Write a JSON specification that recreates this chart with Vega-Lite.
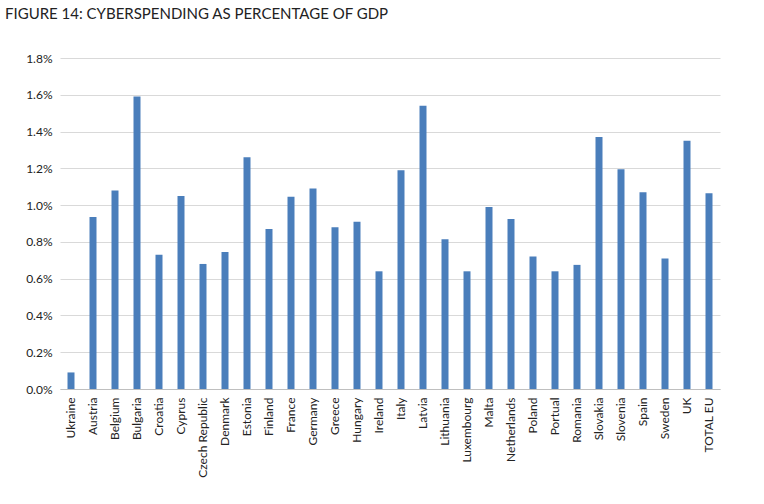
{
  "$schema": "https://vega.github.io/schema/vega-lite/v6.json",
  "width": 660,
  "height": 331,
  "autosize": {"type": "none"},
  "padding": {"left": 60, "top": 58, "right": 44, "bottom": 115},
  "background": "white",
  "title": {
    "text": "FIGURE 14:  CYBERSPENDING AS PERCENTAGE OF GDP",
    "anchor": "start",
    "frame": "group",
    "dx": -55,
    "offset": 30,
    "font": "Lato",
    "fontSize": 15,
    "fontWeight": "normal",
    "color": "#222222"
  },
  "data": {
    "values": [
      {"country": "Ukraine", "v": 0.0009},
      {"country": "Austria", "v": 0.00935},
      {"country": "Belgium", "v": 0.0108},
      {"country": "Bulgaria", "v": 0.0159},
      {"country": "Croatia", "v": 0.0073},
      {"country": "Cyprus", "v": 0.0105},
      {"country": "Czech Republic", "v": 0.0068},
      {"country": "Denmark", "v": 0.00745},
      {"country": "Estonia", "v": 0.0126},
      {"country": "Finland", "v": 0.0087},
      {"country": "France", "v": 0.01045},
      {"country": "Germany", "v": 0.0109},
      {"country": "Greece", "v": 0.0088},
      {"country": "Hungary", "v": 0.0091},
      {"country": "Ireland", "v": 0.0064},
      {"country": "Italy", "v": 0.0119},
      {"country": "Latvia", "v": 0.0154},
      {"country": "Lithuania", "v": 0.00815},
      {"country": "Luxembourg", "v": 0.0064},
      {"country": "Malta", "v": 0.0099},
      {"country": "Netherlands", "v": 0.00925},
      {"country": "Poland", "v": 0.0072},
      {"country": "Portual", "v": 0.0064},
      {"country": "Romania", "v": 0.00675},
      {"country": "Slovakia", "v": 0.0137},
      {"country": "Slovenia", "v": 0.01195},
      {"country": "Spain", "v": 0.0107},
      {"country": "Sweden", "v": 0.0071},
      {"country": "UK", "v": 0.0135},
      {"country": "TOTAL EU", "v": 0.01065}
    ]
  },
  "mark": {"type": "bar", "color": "#4A7EBB", "width": 7},
  "encoding": {
    "x": {
      "field": "country",
      "type": "nominal",
      "sort": null,
      "title": null,
      "axis": {
        "labelAngle": -90,
        "labelFont": "Lato",
        "labelFontSize": 12,
        "labelColor": "#222222",
        "ticks": false,
        "domainColor": "#bfbfbf",
        "labelPadding": 8
      }
    },
    "y": {
      "field": "v",
      "type": "quantitative",
      "title": null,
      "scale": {"domain": [0, 0.018]},
      "axis": {
        "format": ".1%",
        "values": [0, 0.002, 0.004, 0.006, 0.008, 0.01, 0.012, 0.014, 0.016, 0.018],
        "labelFont": "Lato",
        "labelFontSize": 12,
        "labelColor": "#222222",
        "domain": false,
        "ticks": false,
        "gridColor": "#d9d9d9",
        "labelPadding": 8
      }
    }
  },
  "config": {"view": {"stroke": null}}
}
